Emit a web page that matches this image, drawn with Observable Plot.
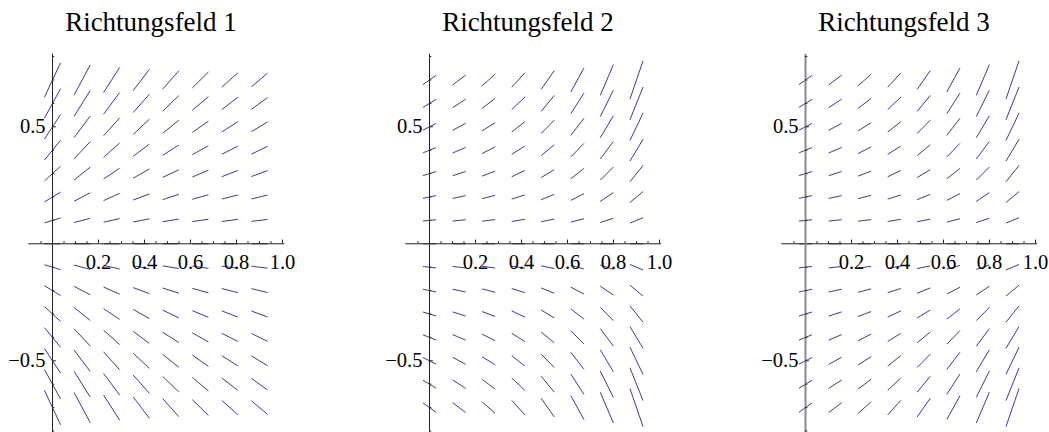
<!DOCTYPE html>
<html>
<head>
<meta charset="utf-8">
<script src="https://cdn.jsdelivr.net/npm/d3@7"></script>
<script src="https://cdn.jsdelivr.net/npm/@observablehq/plot@0.6"></script>
<style>
  body { margin: 0; background: #fff; }
  #chart { position: relative; width: 1049px; height: 432px; overflow: hidden;
           font-family: "Liberation Serif", "Times New Roman", serif; }
  .panel { position: absolute; top: 0; width: 330px; height: 432px; }
  .panel .title { position: absolute; top: 9px; left: 0; width: 302px; text-align: center;
                  font-size: 27px; line-height: 27px; color: #000; white-space: nowrap; }
  .panel svg { position: absolute; top: 45px; left: 0; overflow: visible; }
</style>
</head>
<body>
<div id="chart"></div>
<script>
// Sample grid of the direction fields
const xs = [0, 0.129, 0.257, 0.386, 0.514, 0.643, 0.771, 0.9];
const ys = [0.7, 0.6, 0.5, 0.4, 0.3, 0.2, 0.1, 0, -0.1, -0.2, -0.3, -0.4, -0.5, -0.6, -0.7];

// Slope y' at each grid point, one row per y value (top to bottom), one column per x value
const slopes1 = [
  [ 2.10,  1.83,  1.54,  1.30,  1.11,  0.97,  0.88,  0.83],
  [ 1.80,  1.57,  1.32,  1.11,  0.95,  0.83,  0.76,  0.71],
  [ 1.50,  1.31,  1.10,  0.93,  0.79,  0.69,  0.63,  0.60],
  [ 1.20,  1.05,  0.88,  0.74,  0.63,  0.55,  0.50,  0.48],
  [ 0.90,  0.79,  0.66,  0.56,  0.47,  0.41,  0.38,  0.36],
  [ 0.60,  0.52,  0.44,  0.37,  0.32,  0.28,  0.25,  0.24],
  [ 0.30,  0.26,  0.22,  0.19,  0.16,  0.14,  0.13,  0.12],
  [ 0,     0,     0,     0,     0,     0,     0,     0   ],
  [-0.30, -0.26, -0.22, -0.19, -0.16, -0.14, -0.13, -0.12],
  [-0.60, -0.52, -0.44, -0.37, -0.32, -0.28, -0.25, -0.24],
  [-0.90, -0.79, -0.66, -0.56, -0.47, -0.41, -0.38, -0.36],
  [-1.20, -1.05, -0.88, -0.74, -0.63, -0.55, -0.50, -0.48],
  [-1.50, -1.31, -1.10, -0.93, -0.79, -0.69, -0.63, -0.60],
  [-1.80, -1.57, -1.32, -1.11, -0.95, -0.83, -0.76, -0.71],
  [-2.10, -1.83, -1.54, -1.30, -1.11, -0.97, -0.88, -0.83]
];
const slopes2 = [
  [ 0.70,  0.74,  0.87,  1.09,  1.40,  1.79,  2.31,  2.87],
  [ 0.60,  0.64,  0.74,  0.93,  1.20,  1.53,  1.98,  2.46],
  [ 0.50,  0.53,  0.62,  0.78,  1.00,  1.28,  1.65,  2.05],
  [ 0.40,  0.42,  0.50,  0.62,  0.80,  1.02,  1.32,  1.64],
  [ 0.30,  0.32,  0.37,  0.47,  0.60,  0.77,  0.99,  1.23],
  [ 0.20,  0.21,  0.25,  0.31,  0.40,  0.51,  0.66,  0.82],
  [ 0.10,  0.11,  0.12,  0.16,  0.20,  0.26,  0.33,  0.41],
  [ 0,     0,     0,     0,     0,     0,     0,     0   ],
  [-0.10, -0.11, -0.12, -0.16, -0.20, -0.26, -0.33, -0.41],
  [-0.20, -0.21, -0.25, -0.31, -0.40, -0.51, -0.66, -0.82],
  [-0.30, -0.32, -0.37, -0.47, -0.60, -0.77, -0.99, -1.23],
  [-0.40, -0.42, -0.50, -0.62, -0.80, -1.02, -1.32, -1.64],
  [-0.50, -0.53, -0.62, -0.78, -1.00, -1.28, -1.65, -2.05],
  [-0.60, -0.64, -0.74, -0.93, -1.20, -1.53, -1.98, -2.46],
  [-0.70, -0.74, -0.87, -1.09, -1.40, -1.79, -2.31, -2.87]
];
const slopes3 = [
  [ 0.70,  0.74,  0.87,  1.09,  1.40,  1.79,  2.31,  2.87],
  [ 0.60,  0.64,  0.74,  0.93,  1.20,  1.53,  1.98,  2.46],
  [ 0.50,  0.53,  0.62,  0.78,  1.00,  1.28,  1.65,  2.05],
  [ 0.40,  0.42,  0.50,  0.62,  0.80,  1.02,  1.32,  1.64],
  [ 0.30,  0.32,  0.37,  0.47,  0.60,  0.77,  0.99,  1.23],
  [ 0.20,  0.21,  0.25,  0.31,  0.40,  0.51,  0.66,  0.82],
  [ 0.10,  0.11,  0.12,  0.16,  0.20,  0.26,  0.33,  0.41],
  [ 0,     0,     0,     0,     0,     0,     0,     0   ],
  [ 0.10,  0.11,  0.12,  0.16,  0.20,  0.26,  0.33,  0.41],
  [ 0.20,  0.21,  0.25,  0.31,  0.40,  0.51,  0.66,  0.82],
  [ 0.30,  0.32,  0.37,  0.47,  0.60,  0.77,  0.99,  1.23],
  [ 0.40,  0.42,  0.50,  0.62,  0.80,  1.02,  1.32,  1.64],
  [ 0.50,  0.53,  0.62,  0.78,  1.00,  1.28,  1.65,  2.05],
  [ 0.60,  0.64,  0.74,  0.93,  1.20,  1.53,  1.98,  2.46],
  [ 0.70,  0.74,  0.87,  1.09,  1.40,  1.79,  2.31,  2.87]
];

const titles = ["Richtungsfeld 1", "Richtungsfeld 2", "Richtungsfeld 3"];

// Axes: extents, ticks and tick labels
const xAxisExtent = [-0.103, 1.01];
const yAxisExtent = [-0.81, 0.81];
const xTickValues = [0.2, 0.4, 0.6, 0.8, 1.0];
const xTickLabels = ["0.2", "0.4", "0.6", "0.8", "1.0"];
const xMinorTicks = [-0.05, 0.05, 0.1, 0.15, 0.25, 0.3, 0.35, 0.45, 0.5, 0.55, 0.65, 0.7, 0.75, 0.85, 0.9, 0.95];
const yTickValues = [0.5, -0.5];
const yTickLabels = ["0.5", "\u22120.5"];
const yMinorTicks = [0.8, 0.7, 0.6, 0.4, 0.3, 0.2, 0.1, -0.1, -0.2, -0.3, -0.4, -0.6, -0.7, -0.8];

// Layout and styling of each panel
const panels = [
  {slopes: slopes1, left: 0,   half: 0.035,  yAxisColor: "#222", yAxisWidth: 1},
  {slopes: slopes2, left: 377, half: 0.0285, yAxisColor: "#222", yAxisWidth: 1},
  {slopes: slopes3, left: 753, half: 0.0285, yAxisColor: "#8a8a8a", yAxisWidth: 2}
];
const segColor = "#3a3aa6";

const chart = document.getElementById("chart");

panels.forEach((p, k) => {
  const cells = ys.flatMap((y, i) => xs.map((x, j) => ({x, y, m: p.slopes[i][j]})));
  const h = p.half;
  const ticksX = xTickValues.map((v, i) => ({v, label: xTickLabels[i]}));
  const ticksY = yTickValues.map((v, i) => ({v, label: yTickLabels[i]}));

  const svg = Plot.plot({
    width: 320,
    height: 387,
    style: {background: "transparent", fontFamily: "Liberation Serif, Times New Roman, serif", overflow: "visible"},
    x: {domain: [0, 1], range: [52, 282], axis: null},
    y: {domain: [-0.8, 0.8], range: [385.5, 11.1], axis: null},
    marks: [
      // direction field line elements, centred on the grid points
      Plot.link(cells, {
        x1: d => d.x - h, y1: d => d.y - h * d.m,
        x2: d => d.x + h, y2: d => d.y + h * d.m,
        stroke: segColor, strokeWidth: 1
      }),
      // x axis with ticks pointing up
      Plot.ruleY([0], {x1: xAxisExtent[0], x2: xAxisExtent[1], stroke: "#222", strokeWidth: 1}),
      Plot.ruleX(xMinorTicks, {x: d => d, y1: 0, y2: 0.009, stroke: "#222", strokeWidth: 1}),
      Plot.ruleX(ticksX, {x: "v", y1: 0, y2: 0.016, stroke: "#222", strokeWidth: 1}),
      Plot.text(ticksX, {x: "v", y: () => 0, text: "label", dy: 19, fontSize: 20.5, fill: "#000"}),
      // y axis with ticks pointing right
      Plot.ruleX([0], {y1: yAxisExtent[0], y2: yAxisExtent[1], stroke: p.yAxisColor, strokeWidth: p.yAxisWidth}),
      Plot.ruleY(yMinorTicks, {y: d => d, x1: 0, x2: 0.01, stroke: "#222", strokeWidth: 1}),
      Plot.ruleY(ticksY, {y: "v", x1: 0, x2: 0.017, stroke: "#222", strokeWidth: 1}),
      Plot.text(ticksY, {x: () => 0, y: "v", text: "label", dx: -7, textAnchor: "end", fontSize: 20.5, fill: "#000"})
    ]
  });

  const div = document.createElement("div");
  div.className = "panel";
  div.style.left = p.left + "px";
  const t = document.createElement("div");
  t.className = "title";
  t.textContent = titles[k];
  div.appendChild(t);
  div.appendChild(svg);
  chart.appendChild(div);
});
</script>
</body>
</html>
